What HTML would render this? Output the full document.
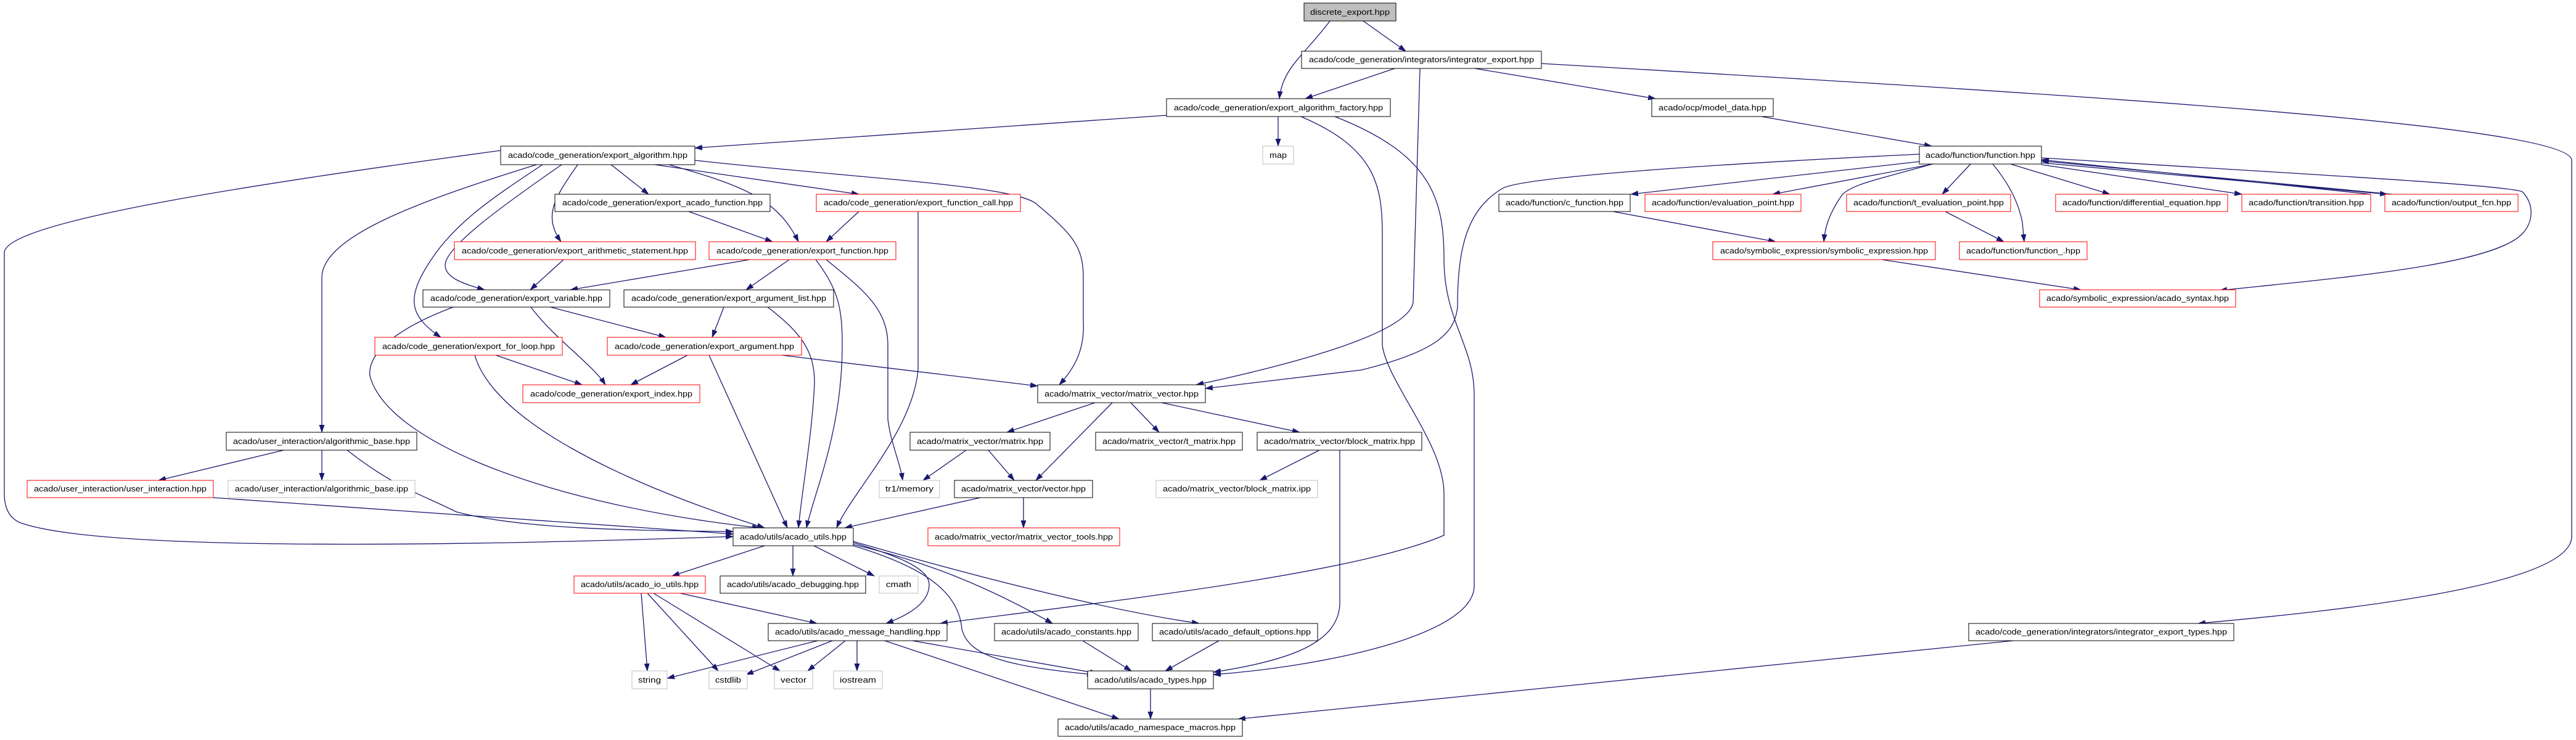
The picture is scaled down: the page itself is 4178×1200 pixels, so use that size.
<!DOCTYPE html>
<html><head><meta charset="utf-8"><style>html,body{margin:0;padding:0;background:#fff}svg{display:block}</style></head><body>
<svg width="4178" height="1200" viewBox="0 0 4178 1200" xmlns="http://www.w3.org/2000/svg" font-family="Liberation Sans, sans-serif" font-size="13">
<defs><marker id="a" markerUnits="userSpaceOnUse" markerWidth="13" markerHeight="9" refX="12" refY="4.5" orient="auto"><path d="M0,0 L13,4.5 L0,9 z" fill="#191970"/></marker></defs>
<g fill="none" stroke="#191970" stroke-width="1.3" marker-end="url(#a)">
<path d="M2157,34 C2115,90 2080,110 2075,160"/>
<path d="M2211,34 L2280,83"/>
<path d="M2262,111 L2117,160"/>
<path d="M2303,111 L2292,490 C2285,540 2100,590 1940,624"/>
<path d="M2392,111 L2685,160"/>
<path d="M2500,103 C3300,150 4171,200 4171,260 L4171,870 C4171,950 3800,990 3565,1011"/>
<path d="M2073,189 L2073,237"/>
<path d="M1892,187 L1127,240"/>
<path d="M2110,189 C2230,240 2242,300 2242,380 L2242,560 C2250,620 2342,720 2342,800 L2342,868 C2200,930 1800,975 1525,1011"/>
<path d="M2165,189 C2320,250 2342,320 2342,420 C2342,520 2391,560 2391,640 L2391,950 C2391,1030 2150,1080 1968,1094"/>
<path d="M812,244 C400,300 7,360 7,410 L7,800 C7,830 20,845 40,850 C200,900 900,880 1189,870"/>
<path d="M870,267 C700,320 522,380 522,450 L522,701"/>
<path d="M880,267 C800,320 740,360 700,420 C660,480 660,510 715,547"/>
<path d="M911,267 C820,330 722,400 722,430 C722,450 750,460 786,470"/>
<path d="M937,267 C900,320 880,350 910,392"/>
<path d="M991,267 L1052,315"/>
<path d="M1062,267 L1393,315"/>
<path d="M1085,267 C1200,300 1260,320 1295,392"/>
<path d="M1127,260 C1400,290 1640,300 1680,330 C1740,380 1757,400 1757,450 L1757,520 C1760,570 1740,600 1718,624"/>
<path d="M1117,343 L1253,392"/>
<path d="M1393,343 L1340,392"/>
<path d="M1489,343 L1489,600 C1480,700 1380,800 1357,856"/>
<path d="M1216,421 L925,470"/>
<path d="M1280,421 L1210,470"/>
<path d="M1323,421 C1360,470 1366,500 1366,560 C1366,700 1320,800 1308,856"/>
<path d="M1340,421 C1400,470 1440,500 1440,560 L1440,680 C1445,720 1460,750 1464,779"/>
<path d="M1268,576 L1683,626"/>
<path d="M735,498 C650,530 595,570 600,610 C630,720 900,820 1232,856"/>
<path d="M861,498 C900,550 960,590 982,624"/>
<path d="M893,498 L1080,547"/>
<path d="M770,576 C800,680 1000,780 1240,856"/>
<path d="M804,576 L944,624"/>
<path d="M1174,498 L1155,547"/>
<path d="M1245,498 C1300,540 1321,570 1321,620 C1318,700 1300,800 1295,856"/>
<path d="M1115,576 L1023,624"/>
<path d="M1150,576 L1277,856"/>
<path d="M914,421 L860,470"/>
<path d="M460,730 L257,779"/>
<path d="M522,730 L522,779"/>
<path d="M563,730 C640,790 680,800 740,830 C850,860 1050,860 1189,862"/>
<path d="M346,807 L1189,866"/>
<path d="M1240,885 L1090,934"/>
<path d="M1286,885 L1286,934"/>
<path d="M1320,885 L1418,934"/>
<path d="M1384,880 C1450,900 1507,920 1507,948 C1507,975 1480,995 1437,1011"/>
<path d="M1384,885 C1500,920 1555,960 1560,1020 C1570,1060 1620,1080 1775,1094"/>
<path d="M1384,883 C1500,910 1600,950 1707,1011"/>
<path d="M1384,878 C1600,940 1800,990 1945,1011"/>
<path d="M1040,962 L1050,1088"/>
<path d="M1050,962 L1165,1088"/>
<path d="M1060,962 L1265,1088"/>
<path d="M1103,962 L1325,1011"/>
<path d="M1326,1039 L1082,1100"/>
<path d="M1350,1039 L1210,1094"/>
<path d="M1371,1039 L1310,1088"/>
<path d="M1390,1039 L1390,1088"/>
<path d="M1480,1039 L1780,1092"/>
<path d="M1435,1039 L1815,1166"/>
<path d="M1756,1039 L1835,1088"/>
<path d="M1977,1039 L1890,1088"/>
<path d="M1866,1117 L1866,1166"/>
<path d="M3265,1039 L2008,1166"/>
<path d="M2173,730 L2173,980 C2170,1040 2100,1070 1968,1090"/>
<path d="M2140,730 L2043,779"/>
<path d="M1776,653 L1633,701"/>
<path d="M1804,653 L1680,779"/>
<path d="M1834,653 L1880,701"/>
<path d="M1884,653 L2108,701"/>
<path d="M1567,730 L1497,779"/>
<path d="M1603,730 L1645,779"/>
<path d="M1590,807 L1370,856"/>
<path d="M1660,807 L1660,856"/>
<path d="M3113,250 C2700,270 2460,290 2436,306 C2380,340 2364,400 2364,497 C2360,540 2330,570 2208,600 L1955,630"/>
<path d="M3113,262 L2645,315"/>
<path d="M3135,266 L2875,315"/>
<path d="M3134,266 C3050,290 2995,300 2985,320 C2965,350 2960,370 2958,392"/>
<path d="M3196,266 L3150,315"/>
<path d="M3232,266 C3260,300 3274,330 3280,360 L3283,392"/>
<path d="M3261,266 L3422,315"/>
<path d="M3311,267 L3636,315"/>
<path d="M3311,264 L3872,315"/>
<path d="M3845,315 L3311,259"/>
<path d="M3880,315 L3311,261"/>
<path d="M3311,256 C3700,280 4070,300 4091,311 C4110,330 4110,360 4090,380 C4040,430 3800,450 3600,471"/>
<path d="M2616,343 L2880,392"/>
<path d="M3155,343 L3250,392"/>
<path d="M3052,421 L3375,470"/>
<path d="M2857,189 L3133,237"/>
</g>
<g id="nodes" text-anchor="middle" fill="#000">
<script type="text/javascript"><![CDATA[]]></script>
</g>
<g>
<!-- nodes: x1,x2,y1,y2 -->
<rect x="2115" y="5" width="149" height="29" fill="#bfbfbf" stroke="#000"/><text x="2189.5" y="24" text-anchor="middle" textLength="129" lengthAdjust="spacingAndGlyphs">discrete_export.hpp</text>
<rect x="2111" y="83" width="389" height="28" fill="#fff" stroke="#000"/><text x="2305.5" y="101" text-anchor="middle" textLength="365" lengthAdjust="spacingAndGlyphs">acado/code_generation/integrators/integrator_export.hpp</text>
<rect x="1892" y="160" width="363" height="29" fill="#fff" stroke="#000"/><text x="2073.5" y="179" text-anchor="middle" textLength="339" lengthAdjust="spacingAndGlyphs">acado/code_generation/export_algorithm_factory.hpp</text>
<rect x="2679" y="160" width="197" height="29" fill="#fff" stroke="#000"/><text x="2777.5" y="179" text-anchor="middle" textLength="175" lengthAdjust="spacingAndGlyphs">acado/ocp/model_data.hpp</text>
<rect x="2048" y="237" width="50" height="29" fill="#fff" stroke="#bfbfbf"/><text x="2073" y="256" text-anchor="middle" textLength="28" lengthAdjust="spacingAndGlyphs">map</text>
<rect x="812" y="237" width="315" height="30" fill="#fff" stroke="#000"/><text x="969.5" y="256" text-anchor="middle" textLength="291" lengthAdjust="spacingAndGlyphs">acado/code_generation/export_algorithm.hpp</text>
<rect x="3113" y="237" width="198" height="29" fill="#fff" stroke="#000"/><text x="3212" y="256" text-anchor="middle" textLength="178" lengthAdjust="spacingAndGlyphs">acado/function/function.hpp</text>
<rect x="900" y="315" width="349" height="28" fill="#fff" stroke="#000"/><text x="1074.5" y="333" text-anchor="middle" textLength="325" lengthAdjust="spacingAndGlyphs">acado/code_generation/export_acado_function.hpp</text>
<rect x="1324" y="315" width="331" height="28" fill="#fff" stroke="#f00"/><text x="1489.5" y="333" text-anchor="middle" textLength="307" lengthAdjust="spacingAndGlyphs">acado/code_generation/export_function_call.hpp</text>
<rect x="2431" y="315" width="213" height="28" fill="#fff" stroke="#000"/><text x="2537.5" y="333" text-anchor="middle" textLength="191" lengthAdjust="spacingAndGlyphs">acado/function/c_function.hpp</text>
<rect x="2668" y="315" width="253" height="28" fill="#fff" stroke="#f00"/><text x="2794.5" y="333" text-anchor="middle" textLength="231" lengthAdjust="spacingAndGlyphs">acado/function/evaluation_point.hpp</text>
<rect x="2995" y="315" width="266" height="28" fill="#fff" stroke="#f00"/><text x="3128" y="333" text-anchor="middle" textLength="244" lengthAdjust="spacingAndGlyphs">acado/function/t_evaluation_point.hpp</text>
<rect x="3334" y="315" width="279" height="28" fill="#fff" stroke="#f00"/><text x="3473.5" y="333" text-anchor="middle" textLength="257" lengthAdjust="spacingAndGlyphs">acado/function/differential_equation.hpp</text>
<rect x="3636" y="315" width="209" height="28" fill="#fff" stroke="#f00"/><text x="3740.5" y="333" text-anchor="middle" textLength="187" lengthAdjust="spacingAndGlyphs">acado/function/transition.hpp</text>
<rect x="3868" y="315" width="216" height="28" fill="#fff" stroke="#f00"/><text x="3976" y="333" text-anchor="middle" textLength="194" lengthAdjust="spacingAndGlyphs">acado/function/output_fcn.hpp</text>
<rect x="737" y="392" width="391" height="29" fill="#fff" stroke="#f00"/><text x="932.5" y="411" text-anchor="middle" textLength="367" lengthAdjust="spacingAndGlyphs">acado/code_generation/export_arithmetic_statement.hpp</text>
<rect x="1150" y="392" width="303" height="29" fill="#fff" stroke="#f00"/><text x="1301.5" y="411" text-anchor="middle" textLength="279" lengthAdjust="spacingAndGlyphs">acado/code_generation/export_function.hpp</text>
<rect x="2778" y="392" width="361" height="29" fill="#fff" stroke="#f00"/><text x="2958.5" y="411" text-anchor="middle" textLength="337" lengthAdjust="spacingAndGlyphs">acado/symbolic_expression/symbolic_expression.hpp</text>
<rect x="3178" y="392" width="207" height="29" fill="#fff" stroke="#f00"/><text x="3281.5" y="411" text-anchor="middle" textLength="185" lengthAdjust="spacingAndGlyphs">acado/function/function_.hpp</text>
<rect x="686" y="470" width="303" height="28" fill="#fff" stroke="#000"/><text x="837.5" y="488" text-anchor="middle" textLength="279" lengthAdjust="spacingAndGlyphs">acado/code_generation/export_variable.hpp</text>
<rect x="1012" y="470" width="340" height="28" fill="#fff" stroke="#000"/><text x="1182" y="488" text-anchor="middle" textLength="316" lengthAdjust="spacingAndGlyphs">acado/code_generation/export_argument_list.hpp</text>
<rect x="3308" y="470" width="318" height="28" fill="#fff" stroke="#f00"/><text x="3467" y="488" text-anchor="middle" textLength="296" lengthAdjust="spacingAndGlyphs">acado/symbolic_expression/acado_syntax.hpp</text>
<rect x="608" y="547" width="304" height="29" fill="#fff" stroke="#f00"/><text x="760" y="566" text-anchor="middle" textLength="280" lengthAdjust="spacingAndGlyphs">acado/code_generation/export_for_loop.hpp</text>
<rect x="985" y="547" width="315" height="29" fill="#fff" stroke="#f00"/><text x="1142.5" y="566" text-anchor="middle" textLength="291" lengthAdjust="spacingAndGlyphs">acado/code_generation/export_argument.hpp</text>
<rect x="848" y="624" width="287" height="29" fill="#fff" stroke="#f00"/><text x="991.5" y="643" text-anchor="middle" textLength="263" lengthAdjust="spacingAndGlyphs">acado/code_generation/export_index.hpp</text>
<rect x="1683" y="624" width="272" height="29" fill="#fff" stroke="#000"/><text x="1819" y="643" text-anchor="middle" textLength="250" lengthAdjust="spacingAndGlyphs">acado/matrix_vector/matrix_vector.hpp</text>
<rect x="367" y="701" width="309" height="29" fill="#fff" stroke="#000"/><text x="521.5" y="720" text-anchor="middle" textLength="287" lengthAdjust="spacingAndGlyphs">acado/user_interaction/algorithmic_base.hpp</text>
<rect x="1476" y="701" width="227" height="29" fill="#fff" stroke="#000"/><text x="1589.5" y="720" text-anchor="middle" textLength="205" lengthAdjust="spacingAndGlyphs">acado/matrix_vector/matrix.hpp</text>
<rect x="1777" y="701" width="238" height="29" fill="#fff" stroke="#000"/><text x="1896" y="720" text-anchor="middle" textLength="216" lengthAdjust="spacingAndGlyphs">acado/matrix_vector/t_matrix.hpp</text>
<rect x="2039" y="701" width="267" height="29" fill="#fff" stroke="#000"/><text x="2172.5" y="720" text-anchor="middle" textLength="245" lengthAdjust="spacingAndGlyphs">acado/matrix_vector/block_matrix.hpp</text>
<rect x="44" y="779" width="302" height="28" fill="#fff" stroke="#f00"/><text x="195" y="797" text-anchor="middle" textLength="280" lengthAdjust="spacingAndGlyphs">acado/user_interaction/user_interaction.hpp</text>
<rect x="370" y="779" width="303" height="28" fill="#fff" stroke="#bfbfbf"/><text x="521.5" y="797" text-anchor="middle" textLength="281" lengthAdjust="spacingAndGlyphs">acado/user_interaction/algorithmic_base.ipp</text>
<rect x="1426" y="779" width="98" height="28" fill="#fff" stroke="#bfbfbf"/><text x="1475" y="797" text-anchor="middle" textLength="78" lengthAdjust="spacingAndGlyphs">tr1/memory</text>
<rect x="1548" y="779" width="224" height="28" fill="#fff" stroke="#000"/><text x="1660" y="797" text-anchor="middle" textLength="202" lengthAdjust="spacingAndGlyphs">acado/matrix_vector/vector.hpp</text>
<rect x="1875" y="779" width="262" height="28" fill="#fff" stroke="#bfbfbf"/><text x="2006" y="797" text-anchor="middle" textLength="240" lengthAdjust="spacingAndGlyphs">acado/matrix_vector/block_matrix.ipp</text>
<rect x="1189" y="856" width="195" height="29" fill="#fff" stroke="#000"/><text x="1286.5" y="875" text-anchor="middle" textLength="173" lengthAdjust="spacingAndGlyphs">acado/utils/acado_utils.hpp</text>
<rect x="1505" y="856" width="311" height="29" fill="#fff" stroke="#f00"/><text x="1660.5" y="875" text-anchor="middle" textLength="289" lengthAdjust="spacingAndGlyphs">acado/matrix_vector/matrix_vector_tools.hpp</text>
<rect x="931" y="934" width="213" height="28" fill="#fff" stroke="#f00"/><text x="1037.5" y="952" text-anchor="middle" textLength="191" lengthAdjust="spacingAndGlyphs">acado/utils/acado_io_utils.hpp</text>
<rect x="1168" y="934" width="236" height="28" fill="#fff" stroke="#000"/><text x="1286" y="952" text-anchor="middle" textLength="214" lengthAdjust="spacingAndGlyphs">acado/utils/acado_debugging.hpp</text>
<rect x="1426" y="934" width="63" height="28" fill="#fff" stroke="#bfbfbf"/><text x="1457.5" y="952" text-anchor="middle" textLength="41" lengthAdjust="spacingAndGlyphs">cmath</text>
<rect x="1246" y="1011" width="290" height="28" fill="#fff" stroke="#000"/><text x="1391" y="1029" text-anchor="middle" textLength="268" lengthAdjust="spacingAndGlyphs">acado/utils/acado_message_handling.hpp</text>
<rect x="1613" y="1011" width="233" height="28" fill="#fff" stroke="#000"/><text x="1729.5" y="1029" text-anchor="middle" textLength="211" lengthAdjust="spacingAndGlyphs">acado/utils/acado_constants.hpp</text>
<rect x="1869" y="1011" width="268" height="28" fill="#fff" stroke="#000"/><text x="2003" y="1029" text-anchor="middle" textLength="246" lengthAdjust="spacingAndGlyphs">acado/utils/acado_default_options.hpp</text>
<rect x="3193" y="1011" width="430" height="28" fill="#fff" stroke="#000"/><text x="3408" y="1029" text-anchor="middle" textLength="408" lengthAdjust="spacingAndGlyphs">acado/code_generation/integrators/integrator_export_types.hpp</text>
<rect x="1025" y="1088" width="57" height="29" fill="#fff" stroke="#bfbfbf"/><text x="1053.5" y="1107" text-anchor="middle" textLength="37" lengthAdjust="spacingAndGlyphs">string</text>
<rect x="1150" y="1088" width="62" height="29" fill="#fff" stroke="#bfbfbf"/><text x="1181" y="1107" text-anchor="middle" textLength="42" lengthAdjust="spacingAndGlyphs">cstdlib</text>
<rect x="1256" y="1088" width="62" height="29" fill="#fff" stroke="#bfbfbf"/><text x="1287" y="1107" text-anchor="middle" textLength="42" lengthAdjust="spacingAndGlyphs">vector</text>
<rect x="1352" y="1088" width="79" height="29" fill="#fff" stroke="#bfbfbf"/><text x="1391.5" y="1107" text-anchor="middle" textLength="59" lengthAdjust="spacingAndGlyphs">iostream</text>
<rect x="1764" y="1088" width="204" height="29" fill="#fff" stroke="#000"/><text x="1866" y="1107" text-anchor="middle" textLength="182" lengthAdjust="spacingAndGlyphs">acado/utils/acado_types.hpp</text>
<rect x="1716" y="1166" width="299" height="28" fill="#fff" stroke="#000"/><text x="1865.5" y="1184" text-anchor="middle" textLength="277" lengthAdjust="spacingAndGlyphs">acado/utils/acado_namespace_macros.hpp</text>
</g>
</svg>
</body></html>
